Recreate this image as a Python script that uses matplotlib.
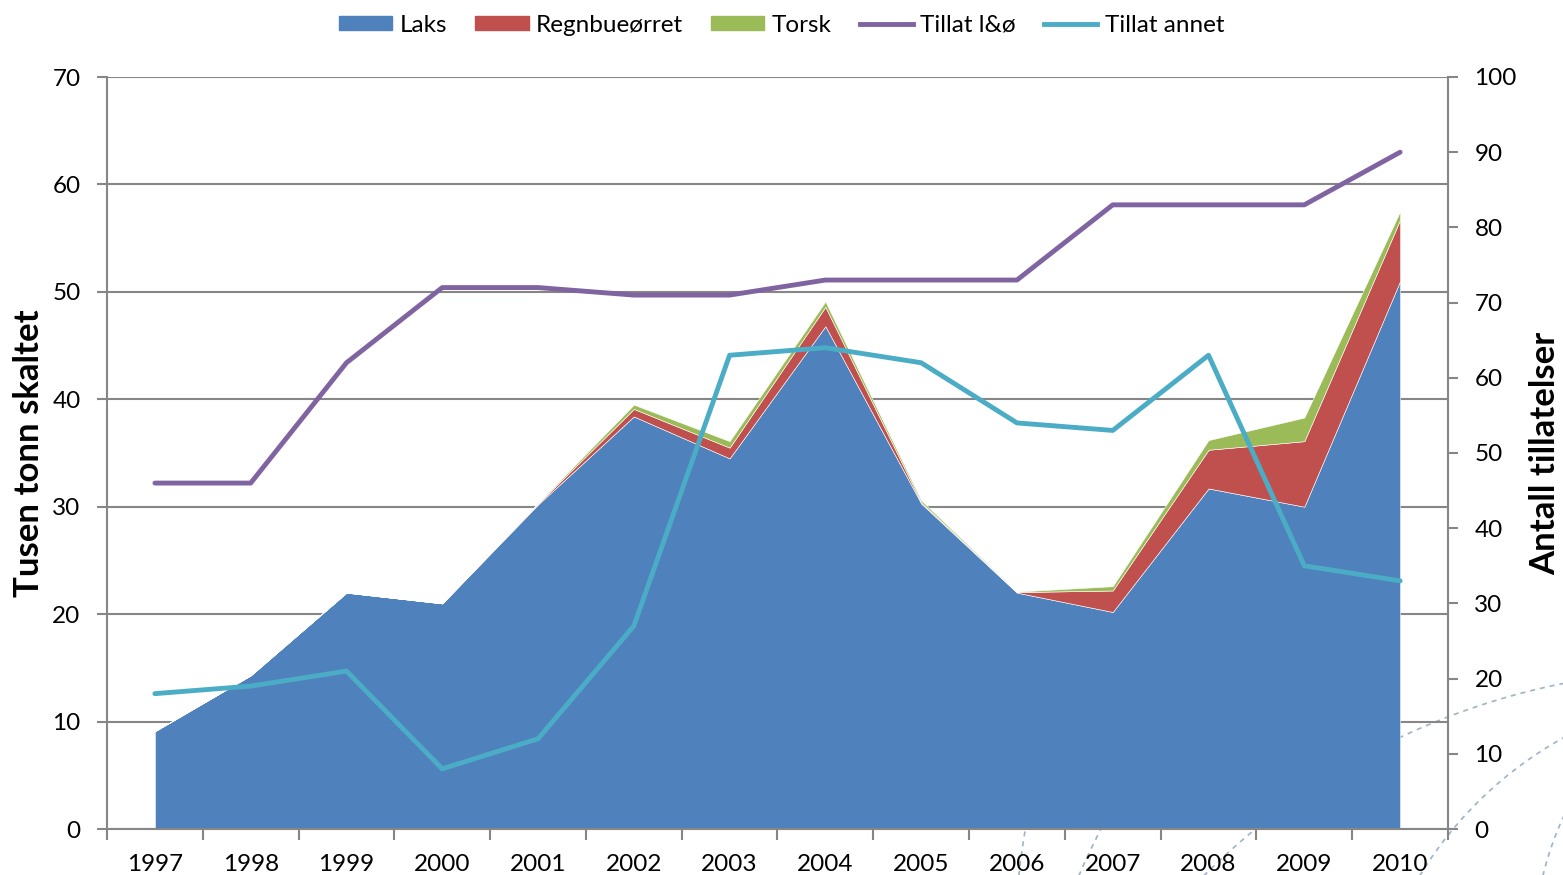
import numpy as np
import matplotlib
matplotlib.use('Agg')
import matplotlib.pyplot as plt
from matplotlib.patches import Patch
from matplotlib.lines import Line2D

plt.rcParams['font.family'] = ['Lato', 'DejaVu Sans']

# data (tusen tonn skaltet, antall tillatelser)
years = ['1997', '1998', '1999', '2000', '2001', '2002', '2003',
         '2004', '2005', '2006', '2007', '2008', '2009', '2010']
laks = [9.1, 14.3, 22.0, 21.0, 30.2, 38.4, 34.5, 46.8, 30.3, 22.0, 20.2, 31.7, 30.0, 51.0]
regnbue = [0, 0, 0, 0, 0.1, 0.7, 1.0, 1.8, 0.1, 0.05, 2.0, 3.6, 6.1, 5.7]
torsk = [0, 0, 0, 0, 0.05, 0.4, 0.6, 0.5, 0.2, 0.05, 0.4, 0.9, 2.2, 0.8]
tillat_lo = [46, 46, 62, 72, 72, 71, 71, 73, 73, 73, 83, 83, 83, 90]
tillat_annet = [18, 19, 21, 8, 12, 27, 63, 64, 62, 54, 53, 63, 35, 33]

c_laks = '#4F81BD'
c_regn = '#C0504D'
c_torsk = '#9BBB59'
c_lo = '#8064A2'
c_annet = '#4BACC6'
gray = '#868686'

W, H = 1563, 875
fig = plt.figure(figsize=(W / 100, H / 100), dpi=100)

# dashed background arcs (decoration, in pixel coords): cx, cy, r, min y shown
bg = fig.add_axes([0, 0, 1, 1], zorder=-1)
bg.set_xlim(0, W)
bg.set_ylim(H, 0)
bg.axis('off')
arcs = [(1700, 1371, 701, 0), (1752, 1078, 389, 0), (1850, 950, 316, 0),
        (1722, 1152, 700, 829), (1809, 963, 795, 829)]
t = np.linspace(0, 2 * np.pi, 4000)
for cx, cy, r, ymin in arcs:
    px = cx + r * np.cos(t)
    py = cy + r * np.sin(t)
    py = np.where(py >= ymin, py, np.nan)
    bg.plot(px, py, ls=(0, (3, 3)), color='#9DB3C6', lw=1.2)

ax = fig.add_axes([107 / W, 1 - 829 / H, (1448 - 107) / W, (829 - 77) / H])
ax.set_facecolor('none')
x = np.arange(len(years))
ax.stackplot(x, laks, regnbue, torsk, colors=[c_laks, c_regn, c_torsk],
             edgecolor='white', linewidth=0.4, zorder=2)
ax.set_xlim(-0.5, len(years) - 0.5)
ax.set_ylim(0, 70)
ax.set_yticks(range(0, 71, 10))
ax.set_axisbelow(True)
ax.grid(axis='y', color=gray, lw=1.5)
ax.set_xticks(x)
ax.set_xticklabels(years)
ax.set_xticks(np.arange(-0.5, len(years), 1), minor=True)
ax.tick_params(axis='x', which='major', length=0, pad=18, labelsize=17.5)
ax.tick_params(axis='x', which='minor', length=8, width=1.5, color=gray)
ax.tick_params(axis='y', length=7, width=1.5, color=gray, labelsize=17.5, pad=12)
for s in ['left', 'bottom']:
    ax.spines[s].set_color(gray)
    ax.spines[s].set_linewidth(1.5)
ax.spines['top'].set_visible(False)
ax.spines['right'].set_visible(False)
ax.set_ylabel('Tusen tonn skaltet', fontsize=25, fontweight='bold', labelpad=5)

ax2 = ax.twinx()
ax2.set_facecolor('none')
ax2.plot(x, tillat_lo, color=c_lo, lw=3.5, solid_capstyle='round', zorder=3)
ax2.plot(x, tillat_annet, color=c_annet, lw=3.5, solid_capstyle='round', zorder=3)
ax2.set_ylim(0, 100)
ax2.set_yticks(range(0, 101, 10))
ax2.tick_params(axis='y', length=7, width=1.5, color=gray, labelsize=17.5, pad=12)
ax2.spines['right'].set_color(gray)
ax2.spines['right'].set_linewidth(1.5)
for s in ['left', 'bottom', 'top']:
    ax2.spines[s].set_visible(False)
ax2.set_ylabel('Antall tillatelser', fontsize=25, fontweight='bold', labelpad=9)

handles = [Patch(color=c_laks), Patch(color=c_regn), Patch(color=c_torsk),
           Line2D([], [], color=c_lo, lw=3.5), Line2D([], [], color=c_annet, lw=3.5)]
labels = ['Laks', 'Regnbueørret', 'Torsk', 'Tillat l&ø', 'Tillat annet']
fig.legend(handles, labels, loc='center', bbox_to_anchor=(0.5, 1 - 25 / H), ncol=5,
           frameon=False, fontsize=17.5, handlelength=2.2, handleheight=0.55,
           handletextpad=0.3, columnspacing=1.15)

fig.savefig('out.png', dpi=100)
